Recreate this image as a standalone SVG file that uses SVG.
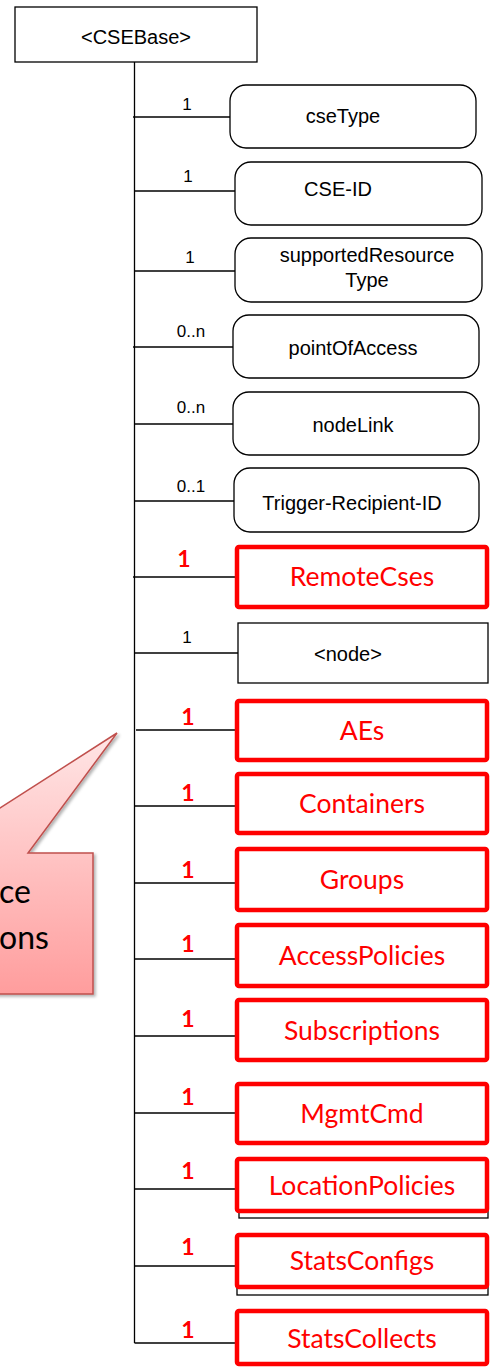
<svg xmlns="http://www.w3.org/2000/svg" width="490" height="1368" viewBox="0 0 490 1368">
  <style>
    .box { fill: #ffffff; stroke: #000000; stroke-width: 1.3; }
    .attr { fill: #ffffff; stroke: #000000; stroke-width: 1.3; }
    .res { fill: #ffffff; stroke: #ff0000; stroke-width: 4.5; }
    .link { stroke: #000000; stroke-width: 1.3; fill: none; }
    .lbl { font-family: "Liberation Sans", Arial, sans-serif; font-size: 20px; fill: #000000; text-anchor: middle; }
    .mult { font-family: "Liberation Sans", Arial, sans-serif; font-size: 17px; fill: #000000; text-anchor: middle; }
    .rlbl { font-family: Lato, "Open Sans", sans-serif; font-size: 26.5px; fill: #ff0000; text-anchor: middle; }
    .rmult { font-family: Lato, "Open Sans", sans-serif; font-size: 23px; font-weight: bold; fill: #ff0000; text-anchor: middle; }
    .note { font-family: Lato, "Open Sans", sans-serif; font-size: 32px; fill: #000000; }
  </style>
  <defs>
    <linearGradient id="noteFill" gradientUnits="userSpaceOnUse" x1="0" y1="733" x2="0" y2="994">
      <stop offset="0" stop-color="#ffe6e6"/>
      <stop offset="1" stop-color="#ff9d9d"/>
    </linearGradient>
    <filter id="noteShadow" x="-20%" y="-20%" width="140%" height="140%">
      <feDropShadow dx="2" dy="2" stdDeviation="1.5" flood-color="#000000" flood-opacity="0.3"/>
    </filter>
  </defs>

  <!-- callout -->
  <g id="callout">
    <polygon points="-120,853 -70,853 117,733 28,853 93,853 93,994 -120,994" fill="url(#noteFill)" stroke="#c0504d" stroke-width="1.5" filter="url(#noteShadow)"/>
    <text class="note" x="-1" y="903">ce</text>
    <text class="note" x="-1" y="949">ons</text>
  </g>

  <!-- connectors -->
  <g id="connectors">
    <line class="link" x1="134.5" y1="62" x2="134.5" y2="1343"/>
    <line class="link" x1="133" y1="117" x2="230" y2="117"/>
    <line class="link" x1="134.5" y1="191" x2="235" y2="191"/>
    <line class="link" x1="134.5" y1="271" x2="235" y2="271"/>
    <line class="link" x1="133" y1="347" x2="233" y2="347"/>
    <line class="link" x1="134.5" y1="424" x2="233" y2="424"/>
    <line class="link" x1="134.5" y1="501" x2="234" y2="501"/>
    <line class="link" x1="133" y1="577" x2="236" y2="577"/>
    <line class="link" x1="134.5" y1="653" x2="239" y2="653"/>
    <line class="link" x1="136" y1="730" x2="236" y2="730"/>
    <line class="link" x1="134.5" y1="806" x2="236" y2="806"/>
    <line class="link" x1="134" y1="883" x2="236" y2="883"/>
    <line class="link" x1="134" y1="959" x2="236" y2="959"/>
    <line class="link" x1="134.5" y1="1036" x2="236" y2="1036"/>
    <line class="link" x1="134.5" y1="1113" x2="236" y2="1113"/>
    <line class="link" x1="134.5" y1="1189" x2="236" y2="1189"/>
    <line class="link" x1="134.5" y1="1266" x2="236" y2="1266"/>
    <line class="link" x1="134.5" y1="1343" x2="236" y2="1343"/>
  </g>

  <g id="cseBase">
    <rect class="box" x="15" y="7" width="242" height="55"/>
    <text class="lbl" x="136" y="44">&lt;CSEBase&gt;</text>
  </g>

  <g id="cseType">
    <rect class="attr" x="230" y="85" width="246" height="63" rx="16"/>
    <text class="mult" x="187" y="110">1</text>
    <text class="lbl" x="343" y="123">cseType</text>
  </g>

  <g id="cseId">
    <rect class="attr" x="235" y="162" width="247" height="63" rx="16"/>
    <text class="mult" x="188" y="182">1</text>
    <text class="lbl" x="338" y="196">CSE-ID</text>
  </g>

  <g id="supportedResourceType">
    <rect class="attr" x="235" y="238" width="247" height="64" rx="16"/>
    <text class="mult" x="190" y="263">1</text>
    <text class="lbl" x="367" y="262">supportedResource</text>
    <text class="lbl" x="367" y="287">Type</text>
  </g>

  <g id="pointOfAccess">
    <rect class="attr" x="233" y="315" width="246" height="63" rx="16"/>
    <text class="mult" x="191" y="337">0..n</text>
    <text class="lbl" x="353" y="355">pointOfAccess</text>
  </g>

  <g id="nodeLink">
    <rect class="attr" x="233" y="392" width="246" height="63" rx="16"/>
    <text class="mult" x="191" y="413">0..n</text>
    <text class="lbl" x="353" y="432">nodeLink</text>
  </g>

  <g id="triggerRecipientId">
    <rect class="attr" x="234" y="468" width="245" height="64" rx="16"/>
    <text class="mult" x="191" y="492">0..1</text>
    <text class="lbl" x="352" y="510">Trigger-Recipient-ID</text>
  </g>

  <g id="remoteCses">
    <rect class="res" x="237" y="547" width="250" height="60" rx="2"/>
    <text class="rmult" x="184" y="567">1</text>
    <text class="rlbl" x="362" y="586">RemoteCses</text>
  </g>

  <g id="node">
    <rect class="box" x="238" y="623" width="250" height="60"/>
    <text class="mult" x="187" y="643">1</text>
    <text class="lbl" x="348" y="661">&lt;node&gt;</text>
  </g>

  <g id="aes">
    <rect class="res" x="237" y="701" width="250" height="59" rx="2"/>
    <text class="rmult" x="188" y="725">1</text>
    <text class="rlbl" x="362" y="740">AEs</text>
  </g>

  <g id="containers">
    <rect class="res" x="237" y="774" width="250" height="59" rx="2"/>
    <text class="rmult" x="188" y="801">1</text>
    <text class="rlbl" x="362" y="813">Containers</text>
  </g>

  <g id="groups">
    <rect class="res" x="237" y="849" width="250" height="61" rx="2"/>
    <text class="rmult" x="188" y="878">1</text>
    <text class="rlbl" x="362" y="889">Groups</text>
  </g>

  <g id="accessPolicies">
    <rect class="res" x="237" y="925" width="250" height="61" rx="2"/>
    <text class="rmult" x="188" y="952">1</text>
    <text class="rlbl" x="362" y="965">AccessPolicies</text>
  </g>

  <g id="subscriptions">
    <rect class="res" x="237" y="1000" width="250" height="60" rx="2"/>
    <text class="rmult" x="188" y="1027">1</text>
    <text class="rlbl" x="362" y="1040">Subscriptions</text>
  </g>

  <g id="mgmtCmd">
    <rect class="res" x="237" y="1084" width="250" height="59" rx="2"/>
    <text class="rmult" x="188" y="1105">1</text>
    <text class="rlbl" x="362" y="1123">MgmtCmd</text>
  </g>

  <g id="locationPolicies">
    <rect class="box" x="239" y="1163" width="249" height="55"/>
    <rect class="res" x="237" y="1159" width="250" height="52" rx="2"/>
    <text class="rmult" x="188" y="1179">1</text>
    <text class="rlbl" x="362" y="1195">LocationPolicies</text>
  </g>

  <g id="statsConfigs">
    <rect class="box" x="237" y="1239" width="251" height="56"/>
    <rect class="res" x="237" y="1235" width="250" height="52" rx="2"/>
    <text class="rmult" x="188" y="1255">1</text>
    <text class="rlbl" x="362" y="1270">StatsConfigs</text>
  </g>

  <g id="statsCollects">
    <rect class="res" x="237" y="1311" width="250" height="53" rx="2"/>
    <text class="rmult" x="188" y="1338">1</text>
    <text class="rlbl" x="362" y="1348">StatsCollects</text>
  </g>
</svg>
